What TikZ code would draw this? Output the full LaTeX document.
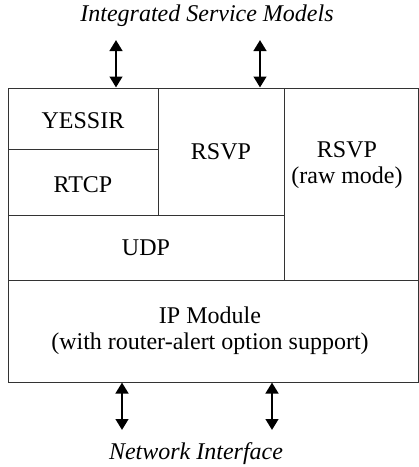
\documentclass[tikz,border=0pt]{standalone}
\usepackage{fontspec}
\setmainfont{Liberation Serif}
\usetikzlibrary{arrows.meta}
\begin{document}
\begin{tikzpicture}[x=1pt,y=-1pt,
  cell/.style={draw=black!80,line width=1pt,inner sep=0pt},
  lbl/.style={font=\fontsize{24}{26}\selectfont,align=center,inner sep=0pt},
  ext/.style={font=\fontsize{24}{26}\selectfont\itshape,inner sep=0pt},
  arr/.style={line width=2.8pt,{Triangle[length=11pt,width=12.5pt]}-{Triangle[length=11pt,width=12.5pt]}}]
\useasboundingbox (0,0) rectangle (419,467);
% cells
\node[cell,minimum width=150pt,minimum height=61pt] (yessir) at (83,118.5) {};
\node[cell,minimum width=150pt,minimum height=66pt] (rtcp) at (83,182) {};
\node[cell,minimum width=126pt,minimum height=127pt] (rsvp) at (221,151.5) {};
\node[cell,minimum width=134pt,minimum height=192pt] (raw) at (351,184) {};
\node[cell,minimum width=276pt,minimum height=65pt] (udp) at (146,247.5) {};
\node[cell,minimum width=410pt,minimum height=102pt] (ip) at (213,331) {};
% labels
\node[lbl] (tyessir) at (83,121) {YESSIR};
\node[lbl] (trtcp) at (83,185) {RTCP};
\node[lbl] (trsvp) at (221,152) {RSVP};
\node[lbl] (traw) at (347,165) {RSVP\\(raw mode)};
\node[lbl] (tudp) at (146,248) {UDP};
\node[lbl] (tip) at (210,330.5) {IP Module\\(with router-alert option support)};
% external labels
\node[ext] (ism) at (207,16) {Integrated Service Models};
\node[ext] (ni) at (196,454) {Network Interface};
% arrows
\coordinate (a1) at (116,40);
\coordinate (a2) at (260,40);
\coordinate (b1) at (122,430);
\coordinate (b2) at (272,430);
\draw[arr] (a1) -- (a1 |- yessir.north);
\draw[arr] (a2) -- (a2 |- rsvp.north);
\draw[arr] (ip.south -| b1) -- (b1);
\draw[arr] (ip.south -| b2) -- (b2);
\end{tikzpicture}
\end{document}
